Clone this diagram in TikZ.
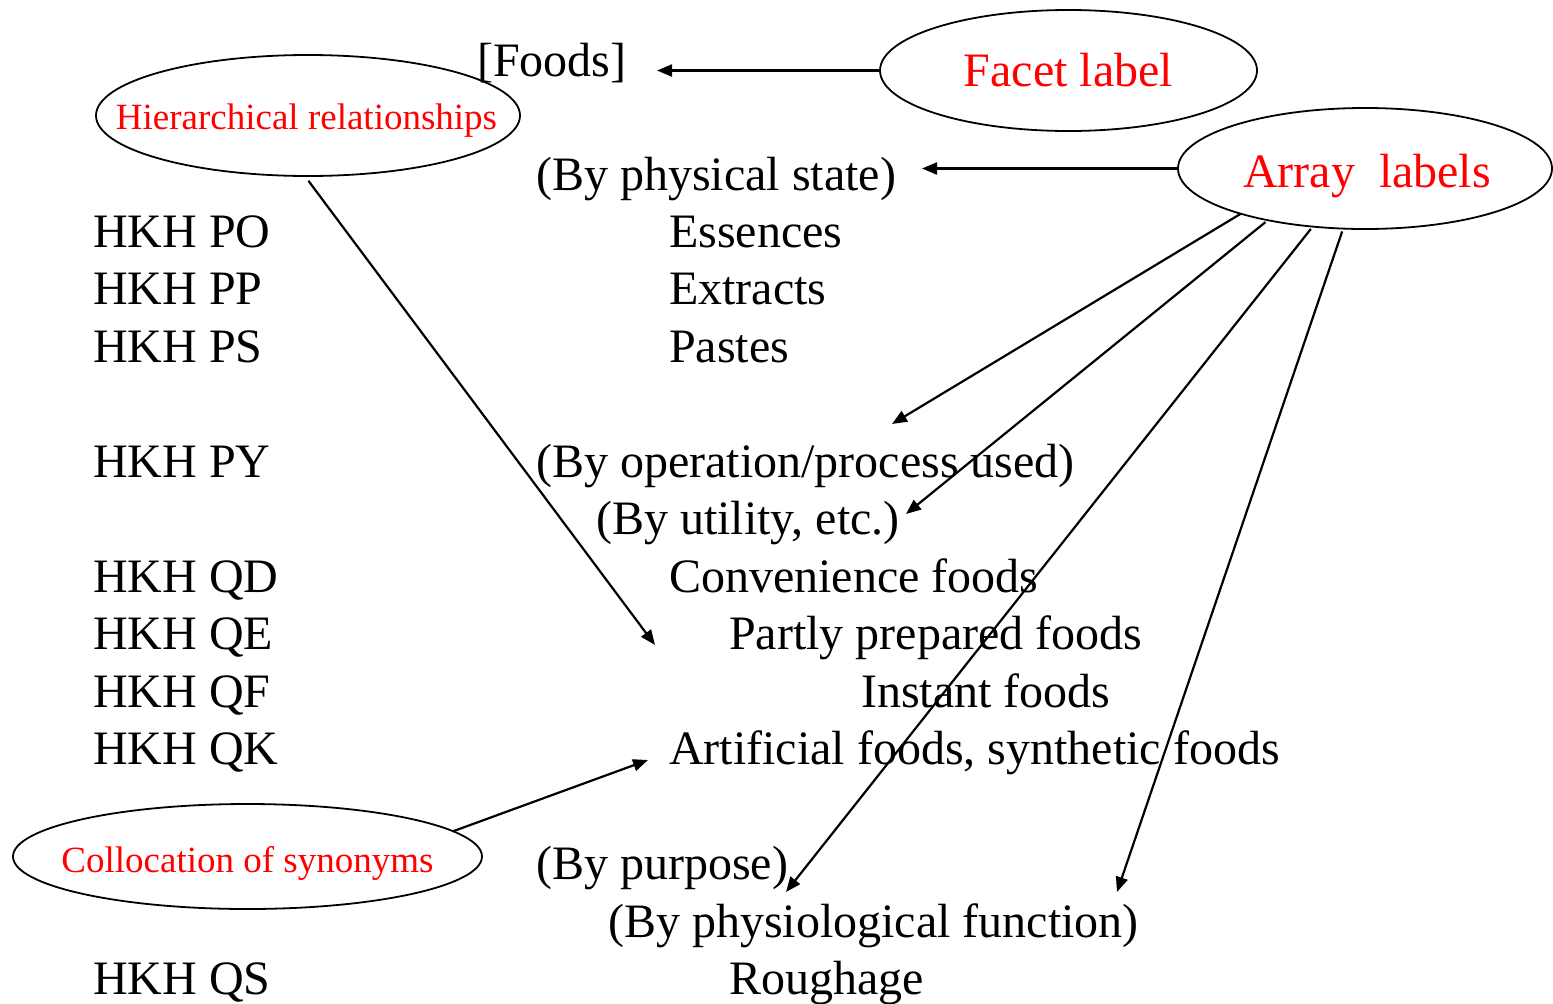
\documentclass[tikz,border=0pt]{standalone}
\usepackage{fontspec}
\setmainfont{Liberation Serif}
\usetikzlibrary{shapes.geometric,arrows.meta}
\begin{document}
\begin{tikzpicture}[x=1pt,y=-1pt,
  txt/.style={anchor=base west, inner sep=0pt, font=\fontsize{48}{58}\selectfont},
  bigred/.style={anchor=base, inner sep=0pt, text=red, font=\fontsize{48}{58}\selectfont},
  smallred/.style={anchor=base, inner sep=0pt, text=red, font=\fontsize{37}{44}\selectfont},
  oval/.style={ellipse, draw=black, line width=1.8pt, inner sep=0pt, outer sep=0pt},
  conn/.style={line width=2.2pt, -{Triangle[length=15pt,width=12pt]}}]
\useasboundingbox (0,0) rectangle (1553,1004);

% ellipses with red labels
\node[oval, minimum width=377pt, minimum height=121pt] (facet) at (1068.5,70.5) {};
\node[bigred] (facettext) at (1068.5,86) {Facet label};
\node[oval, minimum width=374pt, minimum height=121pt] (array) at (1365,168.5) {};
\node[bigred] (arraytext) at (1367,187.5) {Array\ \ labels};
\node[oval, minimum width=424pt, minimum height=121pt] (hier) at (308,115.5) {};
\node[smallred] (hiertext) at (306.5,129) {Hierarchical relationships};
\node[oval, minimum width=469pt, minimum height=105pt] (coll) at (247.5,856.5) {};
\node[smallred] (colltext) at (247.5,872) {Collocation of synonyms};

% schedule text
\node[txt] (foods) at (477,76) {[Foods]};
\node[txt] (phys) at (536,190) {(By physical state)};
\node[txt] (po) at (93,247) {HKH PO};
\node[txt] (ess) at (669,247) {Essences};
\node[txt] (pp) at (93,304.5) {HKH PP};
\node[txt] (ext) at (669,304.5) {Extracts};
\node[txt] (ps) at (93,362) {HKH PS};
\node[txt] (pas) at (669,362) {Pastes};
\node[txt] (py) at (93,477) {HKH PY};
\node[txt] (oper) at (536,477) {(By operation/process used)};
\node[txt] (util) at (596,534.5) {(By utility, etc.)};
\node[txt] (qd) at (93,592) {HKH QD};
\node[txt] (conv) at (669,592) {Convenience foods};
\node[txt] (qe) at (93,649.5) {HKH QE};
\node[txt] (part) at (729,649.5) {Partly prepared foods};
\node[txt] (qf) at (93,707) {HKH QF};
\node[txt] (inst) at (861,707) {Instant foods};
\node[txt] (qk) at (93,764.5) {HKH QK};
\node[txt] (art) at (669,764.5) {Artificial foods, synthetic foods};
\node[txt] (purp) at (536,879.5) {(By purpose)};
\node[txt] (physio) at (608,937) {(By physiological function)};
\node[txt] (qs) at (93,994.5) {HKH QS};
\node[txt] (rough) at (729,994.5) {Roughage};

% connectors
\coordinate (facetend) at (657,70.5);
\draw[conn] (facet.west) -- (facetend);
\coordinate (arrayend) at (922,168.5);
\draw[conn] (array.west) -- (arrayend);
\coordinate (hierend) at (655,645);
\draw[conn, shorten <=6pt] (hier.267) -- (hierend);
\coordinate (a1) at (892,424);
\draw[conn] (array.200) -- (a1);
\coordinate (a2) at (906,514);
\draw[conn, shorten <=3pt] (array.208) -- (a2);
\coordinate (a3) at (786,892);
\draw[conn, shorten <=3pt] (array.228) -- (a3);
\coordinate (a4) at (1117,892);
\draw[conn, shorten <=3pt] (array.250) -- (a4);
\coordinate (collend) at (648,760);
\draw[conn] (coll.7) -- (collend);
\end{tikzpicture}
\end{document}
